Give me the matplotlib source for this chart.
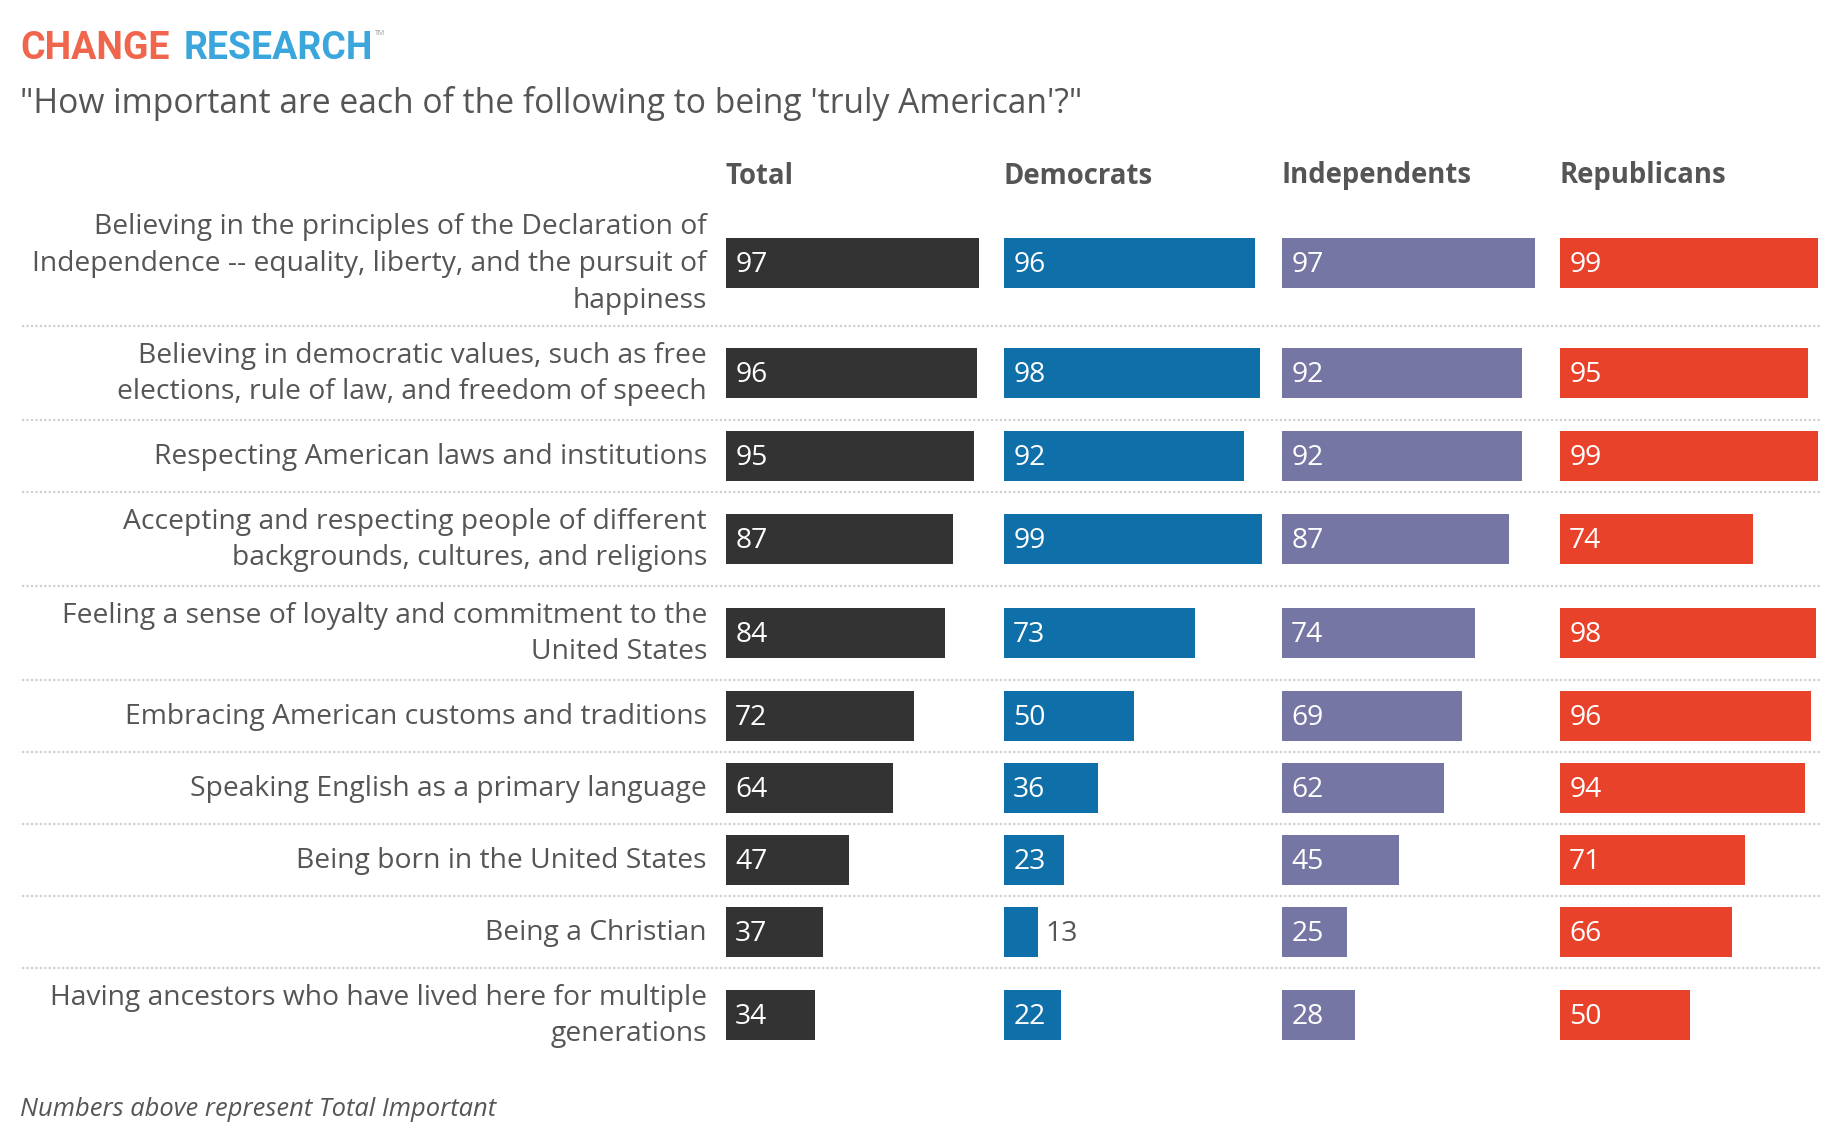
import numpy as np
import matplotlib
matplotlib.use("Agg")
import matplotlib.pyplot as plt

# --- data -------------------------------------------------------------
categories = [
    "Believing in the principles of the Declaration of\nIndependence -- equality, liberty, and the pursuit of\nhappiness",
    "Believing in democratic values, such as free\nelections, rule of law, and freedom of speech",
    "Respecting American laws and institutions",
    "Accepting and respecting people of different\nbackgrounds, cultures, and religions",
    "Feeling a sense of loyalty and commitment to the\nUnited States",
    "Embracing American customs and traditions",
    "Speaking English as a primary language",
    "Being born in the United States",
    "Being a Christian",
    "Having ancestors who have lived here for multiple\ngenerations",
]
groups = ["Total", "Democrats", "Independents", "Republicans"]
total = [97, 96, 95, 87, 84, 72, 64, 47, 37, 34]
democrats = [96, 98, 92, 99, 73, 50, 36, 23, 13, 22]
independents = [97, 92, 92, 87, 74, 69, 62, 45, 25, 28]
republicans = [99, 95, 99, 74, 98, 96, 94, 71, 66, 50]
series = [total, democrats, independents, republicans]
colors = ["#333333", "#0f6fa9", "#7676a4", "#e8422b"]

# --- layout (pixels) ------------------------------------------------------
W, H = 1840, 1148
row_h = {1: 72, 2: 94, 3: 126}
heights = [row_h[c.count("\n") + 1] for c in categories]
edges = np.concatenate([[0], np.cumsum(heights)])
centers = (edges[:-1] + edges[1:]) / 2
span = edges[-1]
top_px = 200
bottom_frac = 1 - (top_px + span) / H
height_frac = span / H
bar_h = 50
col_left = [726, 1004, 1282, 1560]
col_w = 261

TEXT = "#555555"
FONT = ["Open Sans", "DejaVu Sans"]
plt.rcParams["font.family"] = FONT
FS = 20.3

fig = plt.figure(figsize=(W / 100, H / 100), dpi=100)

# background axes for row labels and separators
bg = fig.add_axes([0, bottom_frac, 1, height_frac])
bg.set_xlim(0, W)
bg.set_ylim(span, 0)
bg.axis("off")
for y in edges[1:-1]:
    bg.plot([22, 1822], [y, y], color="#d0d0d0", lw=1.6, ls=(0, (1, 1)))
for c, yc in zip(categories, centers):
    bg.text(707, yc + 1, c, ha="right", va="center", fontsize=FS,
            color=TEXT, linespacing=1.42)

for g, vals, col, left in zip(groups, series, colors, col_left):
    ax = fig.add_axes([left / W, bottom_frac, col_w / W, height_frac])
    ax.barh(centers, vals, height=bar_h, color=col, left=0)
    ax.set_xlim(0, 100)
    ax.set_ylim(span, 0)
    ax.axis("off")
    for v, yc in zip(vals, centers):
        # value inside the bar, or just past its end when the bar is short
        if v >= 20:
            ax.text(3.5, yc + 2, str(v), ha="left", va="center", fontsize=FS,
                    color="white")
        else:
            ax.text(v + 3, yc + 2, str(v), ha="left", va="center", fontsize=FS,
                    color=TEXT)
    fig.text(left / W, 1 - 176 / H, g, ha="left", va="center", fontsize=19.8,
             fontweight="bold", color=TEXT)

# title block
logo = ["Roboto", "DejaVu Sans"]
base_y = (H - 59) / H
t1 = fig.text(20 / W, base_y, "CHANGE", ha="left", va="baseline",
              fontsize=27, fontweight="bold", color="#f0664c", family=logo)
t2 = fig.text(0, base_y, "RESEARCH", fontsize=27, fontweight="bold",
              color="#3aa6dc", family=logo, va="baseline")
fig.canvas.draw()
bb = t1.get_window_extent()
t2.set_position(((bb.x1 + 14) / W, base_y))
bb2 = t2.get_window_extent()
fig.text((bb2.x1 + 2) / W, bb2.y1 / H, "TM", ha="left", va="top",
         fontsize=5, color="#999999")
fig.text(20 / W, 1 - 103.5 / H,
         "\"How important are each of the following to being 'truly American'?\"",
         ha="left", va="center", fontsize=24.2, color=TEXT)
fig.text(20 / W, 1 - 1110 / H, "Numbers above represent Total Important",
         ha="left", va="center", fontsize=18.4, style="italic", color=TEXT)

fig.savefig("out.png", dpi=100, facecolor="white")
